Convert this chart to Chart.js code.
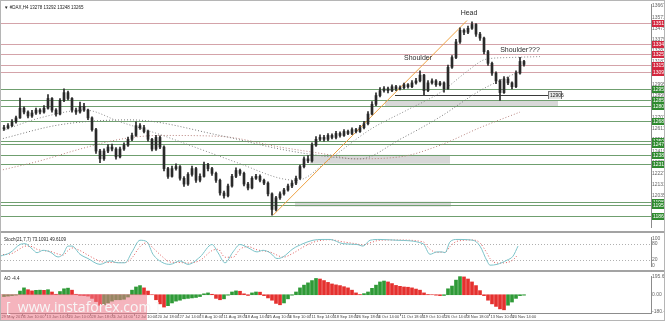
<!DOCTYPE html>
<html>
<head>
<meta charset="utf-8">
<script src="https://cdn.jsdelivr.net/npm/chart.js@4.4.1/dist/chart.umd.min.js"></script>
<style>
  html, body { margin: 0; padding: 0; background: #fff; }
  #wrap { position: relative; width: 665px; height: 321px; overflow: hidden; background: #fff; }
  #wrap canvas { position: absolute; left: 0; }
  .sep { position: absolute; left: 0; width: 665px; height: 2px; background: #a3a3a3; }
  #frame { position: absolute; left: 0; top: 0; width: 663px; height: 319px; border: 1px solid #b5b5b5; pointer-events: none; }
  #mark { position: absolute; left: 0; top: 294px; width: 147px; height: 27px; background: rgba(236, 118, 134, 0.55);
          color: #f7f7f7; font: 14px 'Open Sans', sans-serif; line-height: 26px; white-space: nowrap; padding-left: 6px; box-sizing: border-box; }
</style>
</head>
<body>
<div id="wrap">
  <canvas id="main" width="665" height="231" style="top:0"></canvas>
  <div class="sep" style="top:231px"></div>
  <canvas id="stoch" width="665" height="37" style="top:233px"></canvas>
  <div class="sep" style="top:270px"></div>
  <canvas id="ao" width="665" height="49" style="top:272px"></canvas>
  <div id="mark">[&nbsp; www.instaforex.com ]</div>
  <div id="frame"></div>
</div>
<script>
// ---- price bars (H4, one bar per slot) ----
const firstOpen = 12610;
const closes = [
  12621, 12638, 12671, 12705, 12788, 12755, 12721, 12747, 12772, 12755,
  12788, 12872, 12772, 12738, 12855, 12922, 12872, 12772, 12755, 12805,
  12772, 12705, 12604, 12420, 12353, 12420, 12454, 12437, 12370, 12437,
  12470, 12521, 12554, 12638, 12621, 12588, 12521, 12437, 12537, 12454,
  12269, 12202, 12269, 12286, 12186, 12136, 12219, 12269, 12169, 12202,
  12303, 12269, 12228, 12169, 12060, 12035, 12119, 12202, 12253, 12228,
  12136, 12102, 12186, 12202, 12169, 12144, 12052, 11918, 12018, 12052,
  12085, 12119, 12144, 12186, 12286, 12353, 12336, 12470, 12521, 12537,
  12521, 12554, 12537, 12571, 12554, 12588, 12571, 12604, 12588, 12621,
  12655, 12738, 12822, 12897, 12939, 12956, 12939, 12973, 12956, 12964,
  12990, 12973, 13006, 13023, 13073, 12939, 13006, 13023, 12990, 13006,
  12956, 13140, 13224, 13358, 13458, 13441, 13475, 13508, 13425, 13391,
  13274, 13174, 13090, 13023, 12922, 13040, 13006, 12973, 13090, 13190,
  13165
];
const highs = [
  12640, 12655, 12690, 12720, 12875, 12800, 12765, 12770, 12790, 12785,
  12810, 12905, 12880, 12785, 12870, 12955, 12935, 12880, 12790, 12840,
  12830, 12780, 12715, 12615, 12435, 12440, 12475, 12480, 12450, 12455,
  12490, 12540, 12575, 12672, 12655, 12640, 12600, 12530, 12555, 12550,
  12465, 12280, 12290, 12310, 12295, 12200, 12235, 12290, 12280, 12225,
  12325, 12315, 12280, 12240, 12180, 12075, 12135, 12220, 12275, 12265,
  12240, 12150, 12200, 12220, 12215, 12180, 12155, 12060, 12030, 12070,
  12100, 12135, 12165, 12205, 12300, 12370, 12380, 12490, 12545, 12560,
  12555, 12570, 12568, 12590, 12585, 12605, 12600, 12620, 12615, 12640,
  12675, 12760, 12845, 12920, 12965, 12975, 12970, 12990, 12985, 12980,
  13005, 13000, 13025, 13045, 13110, 13080, 13025, 13040, 13035, 13020,
  13015, 13160, 13240, 13380, 13480, 13470, 13495, 13530, 13515, 13440,
  13400, 13285, 13185, 13100, 13035, 13060, 13055, 13015, 13110, 13225,
  13200
];
const lows = [
  12598, 12610, 12630, 12660, 12700, 12740, 12705, 12710, 12735, 12740,
  12745, 12780, 12755, 12720, 12730, 12845, 12860, 12755, 12735, 12745,
  12760, 12690, 12590, 12400, 12320, 12340, 12405, 12420, 12350, 12360,
  12425, 12460, 12510, 12545, 12605, 12575, 12505, 12420, 12425, 12440,
  12250, 12185, 12195, 12255, 12170, 12115, 12125, 12205, 12150, 12155,
  12195, 12250, 12210, 12150, 12040, 12015, 12025, 12110, 12190, 12210,
  12120, 12085, 12095, 12175, 12155, 12130, 12035, 11868, 11905, 12005,
  12040, 12075, 12105, 12130, 12175, 12275, 12320, 12325, 12460, 12510,
  12505, 12510, 12525, 12525, 12540, 12545, 12560, 12560, 12575, 12580,
  12610, 12645, 12730, 12810, 12885, 12925, 12920, 12930, 12940, 12945,
  12955, 12960, 12965, 12995, 13015, 12905, 12930, 12995, 12975, 12980,
  12925, 12950, 13130, 13215, 13345, 13420, 13430, 13465, 13405, 13370,
  13255, 13155, 13070, 13000, 12855, 12915, 12990, 12955, 12965, 13080,
  13150
];

// ---- moving averages (read as sparse points: bar slot, price) ----
const maFastX = [-1, 9, 20.25, 29, 39, 49, 59, 69, 73.25, 81.5, 91.5, 100.75, 109, 116.5, 120.25, 126.5, 134];
const maFastY = [12588, 12705, 12772, 12671, 12562, 12437, 12311, 12186, 12169, 12353, 12604, 12772, 12922, 13124, 13207, 13224, 13232];
const maMidX = [-1, 14, 31.5, 54, 69, 81.5, 89, 99, 109, 119, 129];
const maMidY = [12521, 12646, 12688, 12554, 12437, 12370, 12353, 12521, 12713, 12939, 13107];
const maSlowX = [-1, 9, 19, 29, 39, 54, 69, 81.5, 87.25, 99, 109, 119, 129];
const maSlowY = [12253, 12336, 12437, 12521, 12554, 12546, 12454, 12387, 12353, 12370, 12470, 12621, 12755];

// ---- trend line, levels, zones ----
const trendX = [67.25, 115.75];
const trendY = [11868, 13542];
const resistance = [13517, 13341, 13257, 13157, 13098];
const support = [12956, 12855, 12805, 12680, 12504, 12479, 12387, 12311, 11985, 11952, 11860];
const pivotX = [97.75, 136];
const pivotPrice = 12906;
const zoneFrom = [95.25, 76.5, 72.75];
const zoneTo = [138.5, 111.5, 111.75];
const zoneHigh = [12855, 12387, 11985];
const zoneLow = [12805, 12311, 11943];
const priceTicks = [13667, 13571, 13475, 13379, 13283, 13187, 13091, 12995, 12899, 12803, 12707, 12611, 12515, 12419, 12323, 12227, 12131, 12035, 11939, 11843];

const notes = ['Head', 'Shoulder', 'Shoulder???'];
const noteX = [116.25, 103.5, 129];
const notePrice = [13609, 13215, 13291];
const title = '\u25BC #DAX,H4 13278 13292 13248 13265';

// ---- stochastic ----
const stochX = [-1, 1.5, 4, 5.25, 7, 8.25, 9.75, 11.5, 13.5, 14.75, 16, 17, 19, 21, 24, 26.5, 28.5, 30.25, 32, 34,
  35.75, 37.25, 39.75, 41.5, 44, 46, 49, 52, 53.5, 55.25, 57.25, 59, 61, 63.25, 64.75, 66.5, 68.25, 69.75, 72.25, 74.75,
  77.25, 79.5, 81.5, 84.75, 88.25, 89.75, 91.5, 94, 98.25, 104.75, 106.5, 108.25, 109.5, 110.25, 111.5, 113.25, 117.25, 119, 120.75, 121.5,
  123.25, 125.75, 127.25, 128.5];
const stochMain = [34, 47, 78, 81, 62, 47, 56, 50, 31, 41, 72, 72, 41, 25, 3, 16, 9, 9, 50, 94,
  88, 41, 9, 3, 16, 3, 31, 78, 47, 9, 50, 78, 66, 50, 56, 47, 25, 31, 62, 81,
  94, 97, 97, 81, 78, 72, 94, 97, 94, 81, 41, 50, 50, 47, 88, 97, 94, 72, 16, 0,
  3, 19, 34, 72];
const stochSignal = [40, 42, 62, 72, 70, 60, 55, 52, 42, 38, 55, 65, 55, 38, 15, 10, 10, 10, 28, 70,
  85, 65, 30, 12, 10, 8, 18, 55, 60, 30, 30, 60, 70, 58, 54, 50, 38, 30, 45, 68,
  86, 94, 96, 88, 80, 76, 84, 94, 95, 88, 60, 48, 49, 48, 70, 90, 95, 84, 45, 25,
  8, 10, 20, 40];
const stochLevels = [80, 20];
const stochTicks = [100, 80, 20, 0];
const stochTitle = 'Stoch(21,7,7) 73.1091 49.6109';

// ---- awesome oscillator ----
const aoValues = [
  -20, -15, -10, -5, 40, 75, 55, 42, 48, 50,
  48, 55, 30, 5, 35, 65, 72, 50, 5, -8,
  -10, -15, -40, -75, -115, -110, -90, -70, -55, -55,
  -50, -25, 50, 85, 100, 75, 40, 0, -55, -100,
  -135, -120, -90, -70, -60, -45, -40, -35, -30, -20,
  10, 20, 5, -40, -55, -45, -5, 30, 42, 38,
  10, -8, 20, 30, 28, -10, -35, -60, -95, -110,
  -90, -45, -5, 30, 75, 105, 130, 155, 178, 172,
  155, 135, 118, 108, 100, 88, 75, 50, 20, 2,
  12, 30, 70, 105, 140, 150, 140, 122, 102, 92,
  85, 82, 75, 62, 50, 20, 2, 0, -5, -10,
  -8, 65, 95, 160, 198, 195, 172, 140, 100, 45,
  -10, -60, -100, -128, -155, -165, -115, -80, -40, -10,
  -5
];
const aoTicks = [195.6, 0, -180.4];
const aoTitle = 'AO -4.4';

// ---- time axis ----
const dateSlots = [-1, 4.5, 10.25, 15.75, 21.5, 27, 32.5, 38, 43.5, 49, 54.5, 60, 65.5, 71, 76.5, 82.25, 87.75, 93.25, 99, 104.5, 110, 115.5, 121.25, 126.75];
const dateLabels = ['29 May 2017', '6 Jun 10:00', '13 Jun 14:00', '20 Jun 10:00', '28 Jun 18:00', '5 Jul 14:00', '12 Jul 10:00',
  '20 Jul 18:00', '27 Jul 14:00', '3 Aug 10:00', '11 Aug 18:00', '18 Aug 14:00', '25 Aug 10:00', '4 Sep 10:00', '11 Sep 14:00',
  '18 Sep 18:00', '26 Sep 18:00', '4 Oct 14:00', '11 Oct 18:00', '19 Oct 10:00', '26 Oct 14:00', '3 Nov 18:00', '13 Nov 10:00', '20 Nov 14:00'];

Chart.defaults.font.family = "'Liberation Sans', Arial, sans-serif";

const X_MIN = -0.75, X_MAX = 161.75;

function xAxis() {
  return { type: 'linear', min: X_MIN, max: X_MAX, display: false, offset: false };
}

function rightAxis(min, max, values, fmt) {
  return {
    position: 'right', min: min, max: max,
    afterBuildTicks: s => { s.ticks = values.map(v => ({ value: v })); },
    afterFit: s => { s.width = 14; },
    grid: { display: false, drawTicks: false },
    border: { color: '#8c8c8c' },
    ticks: { font: { size: 5 }, color: '#666', padding: 1, autoSkip: false, maxRotation: 0, callback: fmt }
  };
}

function pts(xs, ys) {
  return xs.map((x, i) => ({ x: x, y: ys[i] }));
}

function dotted(data, color) {
  return { type: 'line', data: data, borderColor: color, borderWidth: 1, borderDash: [1, 2],
           pointRadius: 0, cubicInterpolationMode: 'monotone', order: 5 };
}

const opens = closes.map((c, i) => i === 0 ? firstOpen : closes[i - 1]);
const wicks = closes.map((c, i) => ({ x: i, y: [lows[i], highs[i]] }));
const bodies = closes.map((c, i) => ({ x: i, y: [opens[i], c] }));

const mainDecor = {
  id: 'mainDecor',
  beforeDatasetsDraw(chart) {
    const { ctx, chartArea: a, scales: { x, y } } = chart;
    ctx.save();
    ctx.fillStyle = '#d8d8d8';
    zoneFrom.forEach((from, k) => {
      const x0 = x.getPixelForValue(from), x1 = x.getPixelForValue(zoneTo[k]);
      const y0 = y.getPixelForValue(zoneHigh[k]), y1 = y.getPixelForValue(zoneLow[k]);
      ctx.fillRect(x0, y0, x1 - x0, y1 - y0);
    });
    ctx.lineWidth = 1;
    const hline = (v, color) => {
      const py = Math.round(y.getPixelForValue(v)) + 0.5;
      ctx.strokeStyle = color;
      ctx.beginPath(); ctx.moveTo(a.left, py); ctx.lineTo(a.right, py); ctx.stroke();
    };
    resistance.forEach(v => hline(v, '#d4a3a9'));
    support.forEach(v => hline(v, '#6f9f6f'));
    // pivot line
    const py = Math.round(y.getPixelForValue(pivotPrice)) + 0.5;
    ctx.strokeStyle = '#3a3a3a';
    ctx.beginPath(); ctx.moveTo(x.getPixelForValue(pivotX[0]), py); ctx.lineTo(x.getPixelForValue(pivotX[1]), py); ctx.stroke();
    ctx.restore();
  },
  afterDraw(chart) {
    const { ctx, chartArea: a, scales: { x, y } } = chart;
    ctx.save();
    ctx.font = "5px 'Liberation Sans', Arial, sans-serif";
    ctx.textBaseline = 'middle';
    ctx.textAlign = 'left';
    const box = (v, bg, fg, left, w) => {
      const py = Math.round(y.getPixelForValue(v));
      ctx.fillStyle = bg;
      ctx.fillRect(left, py - 3, w, 7);
      ctx.fillStyle = fg;
      ctx.fillText(String(Math.round(v)), left + 1, py + 0.5);
    };
    resistance.forEach(v => box(v, '#d3283f', '#fff', a.right + 1, 13));
    support.forEach(v => box(v, '#2f8a2f', '#fff', a.right + 1, 13));
    // pivot label
    const px = x.getPixelForValue(pivotX[1]);
    ctx.strokeStyle = '#777';
    ctx.lineWidth = 1;
    ctx.strokeRect(px + 0.5, Math.round(y.getPixelForValue(pivotPrice)) - 3.5, 13, 7);
    box(pivotPrice, '#e4e4e4', '#222', px + 1, 12);
    // pattern notes
    ctx.font = "7px 'Liberation Sans', Arial, sans-serif";
    ctx.textAlign = 'center';
    ctx.fillStyle = '#2b2b2b';
    notes.forEach((t, k) => ctx.fillText(t, x.getPixelForValue(noteX[k]), y.getPixelForValue(notePrice[k])));
    // symbol header
    ctx.font = "4.5px 'Liberation Sans', Arial, sans-serif";
    ctx.textAlign = 'left';
    ctx.fillStyle = '#222';
    ctx.fillText(title, a.left + 3, a.top + 4);
    ctx.restore();
  }
};

new Chart(document.getElementById('main'), {
  type: 'bar',
  data: {
    datasets: [
      { type: 'line', data: pts(trendX, trendY), borderColor: '#eea243', borderWidth: 1, pointRadius: 0, order: 4 },
      dotted(pts(maFastX, maFastY), '#8a8a8a'),
      dotted(pts(maMidX, maMidY), '#7a7a7a'),
      dotted(pts(maSlowX, maSlowY), '#b8837e'),
      { data: wicks, backgroundColor: '#2a2a2a', barThickness: 1, grouped: false, order: 1 },
      { data: bodies, backgroundColor: '#2a2a2a', barThickness: 2, grouped: false, minBarLength: 1, order: 0 }
    ]
  },
  options: {
    responsive: false, animation: false, events: [],
    layout: { padding: { left: 1, top: 1, bottom: 1, right: 0 } },
    plugins: { legend: { display: false }, tooltip: { enabled: false } },
    scales: { x: xAxis(), y: rightAxis(11767, 13684, priceTicks, v => String(v)) }
  },
  plugins: [mainDecor]
});

const stochDecor = {
  id: 'stochDecor',
  beforeDatasetsDraw(chart) {
    const { ctx, chartArea: a, scales: { y } } = chart;
    ctx.save();
    ctx.strokeStyle = '#b0b0b0';
    ctx.setLineDash([1, 2]);
    stochLevels.forEach(v => {
      const py = Math.round(y.getPixelForValue(v)) + 0.5;
      ctx.beginPath(); ctx.moveTo(a.left, py); ctx.lineTo(a.right, py); ctx.stroke();
    });
    ctx.restore();
  },
  afterDraw(chart) {
    const { ctx, chartArea: a } = chart;
    ctx.save();
    ctx.font = "4.5px 'Liberation Sans', Arial, sans-serif";
    ctx.fillStyle = '#222';
    ctx.textBaseline = 'middle';
    ctx.fillText(stochTitle, a.left + 3, a.top + 3);
    ctx.restore();
  }
};

new Chart(document.getElementById('stoch'), {
  type: 'line',
  data: {
    datasets: [
      { data: pts(stochX, stochMain), borderColor: '#7cc3c9', borderWidth: 1, pointRadius: 0, cubicInterpolationMode: 'monotone' },
      { data: pts(stochX, stochSignal), borderColor: '#de5a5a', borderWidth: 1, borderDash: [1, 2], pointRadius: 0, cubicInterpolationMode: 'monotone' }
    ]
  },
  options: {
    responsive: false, animation: false, events: [],
    layout: { padding: { left: 1, top: 1, bottom: 1, right: 0 } },
    plugins: { legend: { display: false }, tooltip: { enabled: false } },
    scales: { x: xAxis(), y: rightAxis(-3.1, 106.25, stochTicks, v => String(v)) }
  },
  plugins: [stochDecor]
});

const aoDecor = {
  id: 'aoDecor',
  afterDraw(chart) {
    const { ctx, chartArea: a, scales: { x } } = chart;
    ctx.save();
    ctx.font = "4.5px 'Liberation Sans', Arial, sans-serif";
    ctx.fillStyle = '#222';
    ctx.textBaseline = 'middle';
    ctx.fillText(aoTitle, a.left + 3, a.top + 3);
    ctx.strokeStyle = '#8c8c8c';
    ctx.beginPath(); ctx.moveTo(a.left, a.bottom + 0.5); ctx.lineTo(a.right + 1, a.bottom + 0.5); ctx.stroke();
    ctx.font = "4px 'Liberation Sans', Arial, sans-serif";
    ctx.fillStyle = '#444';
    dateSlots.forEach((s, k) => {
      const px = Math.round(x.getPixelForValue(s)) + 0.5;
      ctx.beginPath(); ctx.moveTo(px, a.bottom); ctx.lineTo(px, a.bottom + 3); ctx.stroke();
      ctx.fillText(dateLabels[k], px + 1, a.bottom + 4);
    });
    ctx.restore();
  }
};

new Chart(document.getElementById('ao'), {
  type: 'bar',
  data: {
    datasets: [{
      data: aoValues.map((v, i) => ({ x: i, y: v })),
      backgroundColor: aoValues.map((v, i) => (i > 0 && v < aoValues[i - 1]) ? '#e5312f' : '#2f9a37'),
      barThickness: 3
    }]
  },
  options: {
    responsive: false, animation: false, events: [],
    layout: { padding: { left: 1, top: 1, bottom: 8, right: 0 } },
    plugins: { legend: { display: false }, tooltip: { enabled: false } },
    scales: { x: xAxis(), y: rightAxis(-200, 205, aoTicks, v => v === 0 ? '0.00' : v.toFixed(1)) }
  },
  plugins: [aoDecor]
});
</script>
</body>
</html>
